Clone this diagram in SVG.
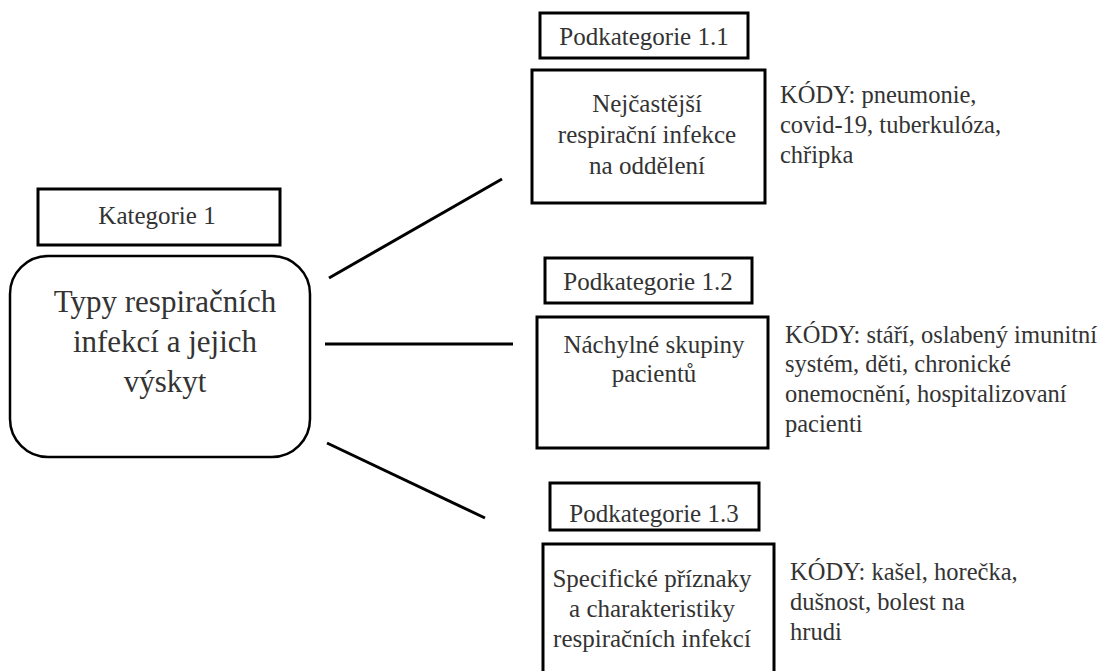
<svg xmlns="http://www.w3.org/2000/svg" width="1109" height="671" viewBox="0 0 1109 671">
<style>
  .box { fill: #ffffff; stroke: #000000; stroke-width: 3; }
  .rbox { fill: #ffffff; stroke: #000000; stroke-width: 2.5; }
  .conn { stroke: #000000; stroke-width: 3; fill: none; }
</style>
<rect x="0" y="0" width="1109" height="671" fill="#ffffff"/>

<g id="connectors">
  <line class="conn" x1="329" y1="278" x2="502" y2="179"/>
  <line class="conn" x1="325" y1="344" x2="513" y2="344"/>
  <line class="conn" x1="327" y1="443" x2="485" y2="518"/>
</g>

<g id="kategorie1-label" fill="#333333" text-anchor="middle">
  <rect class="box" x="38" y="189" width="242" height="56"/>
  <text x="157" y="224" font-family="Liberation Serif, serif" font-size="25">Kategorie 1</text>
</g>

<g id="kategorie1" fill="#333333" text-anchor="middle">
  <rect class="rbox" x="10" y="256" width="300" height="201" rx="38" ry="38"/>
  <text x="165" y="312" font-family="Liberation Serif, serif" font-size="31">Typy respiračních</text>
  <text x="165" y="352" font-family="Liberation Serif, serif" font-size="31">infekcí a jejich</text>
  <text x="165" y="392" font-family="Liberation Serif, serif" font-size="31">výskyt</text>
</g>

<g id="pod11-label" fill="#333333" text-anchor="middle">
  <rect class="box" x="540" y="13" width="208" height="45"/>
  <text x="644" y="45" font-family="Liberation Serif, serif" font-size="25">Podkategorie 1.1</text>
</g>

<g id="pod11" fill="#333333" text-anchor="middle">
  <rect class="box" x="532" y="70" width="233" height="133"/>
  <text x="647" y="112" font-family="Liberation Serif, serif" font-size="25">Nejčastější</text>
  <text x="647" y="143" font-family="Liberation Serif, serif" font-size="25">respirační infekce</text>
  <text x="647" y="174" font-family="Liberation Serif, serif" font-size="25">na oddělení</text>
</g>

<g id="codes11" fill="#333333">
  <text x="780" y="103" font-family="Liberation Serif, serif" font-size="24.5">KÓDY: pneumonie,</text>
  <text x="780" y="133" font-family="Liberation Serif, serif" font-size="24.5">covid-19, tuberkulóza,</text>
  <text x="780" y="163" font-family="Liberation Serif, serif" font-size="24.5">chřipka</text>
</g>

<g id="pod12-label" fill="#333333" text-anchor="middle">
  <rect class="box" x="545" y="258" width="207" height="45"/>
  <text x="648" y="290" font-family="Liberation Serif, serif" font-size="25">Podkategorie 1.2</text>
</g>

<g id="pod12" fill="#333333" text-anchor="middle">
  <rect class="box" x="537" y="317" width="231" height="131"/>
  <text x="654" y="353" font-family="Liberation Serif, serif" font-size="25">Náchylné skupiny</text>
  <text x="654" y="382" font-family="Liberation Serif, serif" font-size="25">pacientů</text>
</g>

<g id="codes12" fill="#333333">
  <text x="785" y="343" font-family="Liberation Serif, serif" font-size="24.5">KÓDY: stáří, oslabený imunitní</text>
  <text x="785" y="372" font-family="Liberation Serif, serif" font-size="24.5">systém, děti, chronické</text>
  <text x="785" y="402" font-family="Liberation Serif, serif" font-size="24.5">onemocnění, hospitalizovaní</text>
  <text x="785" y="432" font-family="Liberation Serif, serif" font-size="24.5">pacienti</text>
</g>

<g id="pod13-label" fill="#333333" text-anchor="middle">
  <rect class="box" x="550" y="483" width="209" height="47"/>
  <text x="654" y="522" font-family="Liberation Serif, serif" font-size="25">Podkategorie 1.3</text>
</g>

<g id="pod13" fill="#333333" text-anchor="middle">
  <rect class="box" x="543" y="544" width="231" height="140"/>
  <text x="652" y="587" font-family="Liberation Serif, serif" font-size="25">Specifické příznaky</text>
  <text x="652" y="617" font-family="Liberation Serif, serif" font-size="25">a charakteristiky</text>
  <text x="652" y="647" font-family="Liberation Serif, serif" font-size="25">respiračních infekcí</text>
</g>

<g id="codes13" fill="#333333">
  <text x="790" y="580" font-family="Liberation Serif, serif" font-size="24.5">KÓDY: kašel, horečka,</text>
  <text x="790" y="610" font-family="Liberation Serif, serif" font-size="24.5">dušnost, bolest na</text>
  <text x="790" y="640" font-family="Liberation Serif, serif" font-size="24.5">hrudi</text>
</g>
</svg>
